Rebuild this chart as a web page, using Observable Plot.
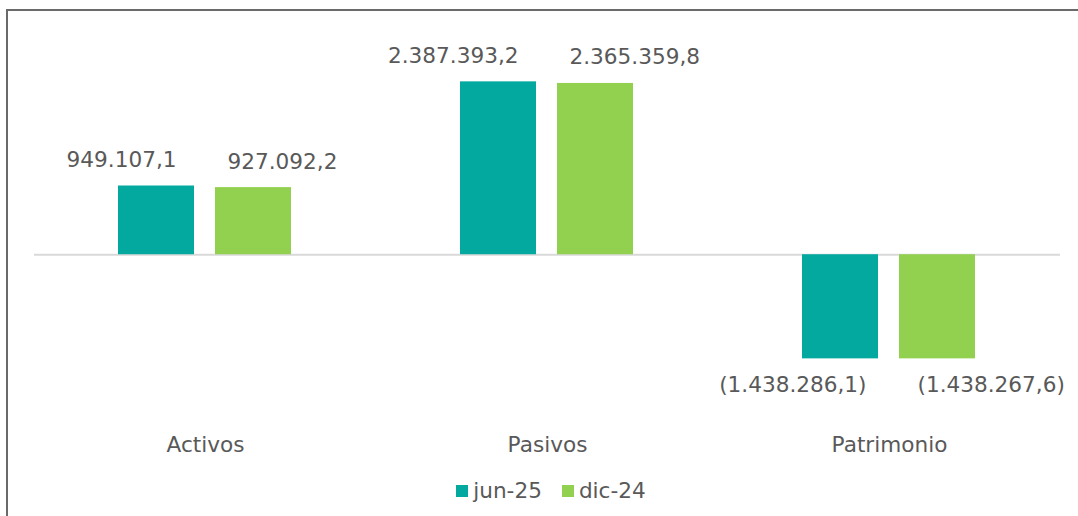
<!DOCTYPE html>
<html>
<head>
<meta charset="utf-8">
<script src="https://cdn.jsdelivr.net/npm/d3@7"></script>
<script src="https://cdn.jsdelivr.net/npm/@observablehq/plot@0.6"></script>
<style>
  html, body { margin: 0; padding: 0; background: #fff; }
  #wrap { position: relative; width: 1078px; height: 516px; overflow: hidden; font-family: "DejaVu Sans", Verdana, sans-serif; }
  #frame { position: absolute; left: 6px; top: 9px; width: 1200px; height: 700px; border: 2px solid #6a6a6a; box-sizing: border-box; }
  #chart { position: absolute; left: 0; top: 0; }
  #legend { position: absolute; left: 0; top: 479px; width: 1078px; padding-left: 24px; box-sizing: border-box;
            display: flex; justify-content: center; align-items: center; gap: 20px;
            font-size: 21.6px; line-height: 24px; color: #595959; }
  .item { display: flex; align-items: center; gap: 5px; }
  .sw { width: 12px; height: 12px; display: inline-block; }
</style>
</head>
<body>
<div id="wrap">
  <div id="frame"></div>
  <div id="chart"></div>
  <div id="legend"></div>
</div>
<script>
const categories = ["Activos", "Pasivos", "Patrimonio"];
const series = ["jun-25", "dic-24"];
const colors = ["#03A99F", "#92D050"];
const jun25 = [949107.1, 2387393.2, -1438286.1];
const dic24 = [927092.2, 2365359.8, -1438267.6];

const data = [];
categories.forEach((c, i) => {
  data.push({category: c, series: series[0], value: jun25[i]});
  data.push({category: c, series: series[1], value: dic24[i]});
});

const loc = d3.formatLocale({decimal: ",", thousands: ".", grouping: [3], currency: ["", ""]});
const f = loc.format(",.1f");
const fmt = v => v < 0 ? "(" + f(-v) + ")" : f(v);

const textColor = "#595959";
const common = {fx: "category", x: "series", y: "value", text: d => fmt(d.value), fill: textColor, fontSize: 21.6};

const chart = Plot.plot({
  width: 1078,
  height: 470,
  marginLeft: 33,
  marginRight: 17,
  marginTop: 37,
  marginBottom: 42,
  style: {fontFamily: "DejaVu Sans, Verdana, sans-serif", fontSize: "21.6px", color: textColor, background: "transparent"},
  fx: {domain: categories, padding: 0, label: null, axis: "bottom", tickSize: 0, tickPadding: 8},
  x: {domain: series, paddingInner: 0.214, paddingOuter: 0.854, axis: null},
  y: {domain: [-2.4e6, 3.0e6], axis: null},
  color: {domain: series, range: colors},
  marks: [
    Plot.ruleY([0], {stroke: "#d9d9d9", strokeWidth: 2}),
    Plot.barY(data, {fx: "category", x: "series", y: "value", fill: "series"}),
    Plot.text(data, {...common, filter: d => d.series === series[0] && d.value >= 0, textAnchor: "end", dx: 20, dy: -26}),
    Plot.text(data, {...common, filter: d => d.series === series[1] && d.value >= 0, textAnchor: "start", dx: -26, dy: -26}),
    Plot.text(data, {...common, filter: d => d.series === series[0] && d.value < 0, textAnchor: "end", dx: 26, dy: 26}),
    Plot.text(data, {...common, filter: d => d.series === series[1] && d.value < 0, textAnchor: "start", dx: -20, dy: 26})
  ]
});
document.getElementById("chart").appendChild(chart);

const legend = document.getElementById("legend");
series.forEach((s, i) => {
  const item = document.createElement("span");
  item.className = "item";
  const sw = document.createElement("span");
  sw.className = "sw";
  sw.style.background = colors[i];
  const t = document.createElement("span");
  t.textContent = s;
  item.appendChild(sw);
  item.appendChild(t);
  legend.appendChild(item);
});
</script>
</body>
</html>
